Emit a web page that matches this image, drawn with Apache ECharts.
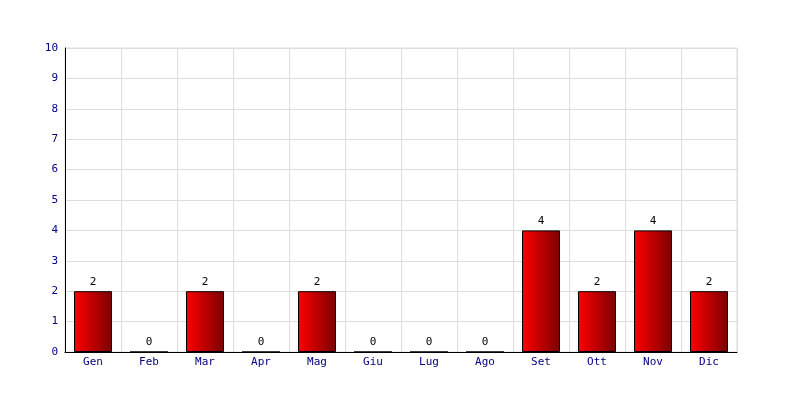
<!DOCTYPE html>
<html><head><meta charset="utf-8">
<script src="https://cdn.jsdelivr.net/npm/echarts@6/dist/echarts.min.js"></script>
<style>html,body{margin:0;padding:0;background:#fff}#c{width:800px;height:400px}</style>
</head><body><div id="c"></div>
<script>
var categories = ['Gen','Feb','Mar','Apr','Mag','Giu','Lug','Ago','Set','Ott','Nov','Dic'];
var values = [2,0,2,0,2,0,0,0,4,2,4,2];
var yTicks = [0,1,2,3,4,5,6,7,8,9,10];

var chart = echarts.init(document.getElementById('c'), null, {renderer:'canvas'});
var font = 'DejaVu Sans Mono';
chart.setOption({
  animation: false,
  backgroundColor: '#fff',
  grid: {left: 65, right: 63, top: 48, bottom: 48, show: true, borderColor: '#dddddd', borderWidth: 1},
  xAxis: {
    type: 'category', data: categories,
    axisLine: {show: true, lineStyle: {color: '#000', width: 1}},
    axisTick: {show: false},
    axisLabel: {color: '#000080', fontFamily: font, fontSize: 11, margin: 5},
    splitLine: {show: true, interval: 0, lineStyle: {color: '#dddddd', width: 1}}
  },
  yAxis: {
    type: 'value', min: 0, max: 10, interval: 1,
    axisLine: {show: true, lineStyle: {color: '#000', width: 1}},
    axisTick: {show: false},
    axisLabel: {color: '#000080', fontFamily: font, fontSize: 11, margin: 7},
    splitLine: {show: true, lineStyle: {color: '#dddddd', width: 1}}
  },
  series: [{
    type: 'bar', data: values, barWidth: 38,
    itemStyle: {
      color: {type: 'linear', x: 0, y: 0, x2: 1, y2: 0, colorStops: [{offset: 0, color: '#ff0000'}, {offset: 1, color: '#7a0000'}]},
      borderColor: '#000', borderWidth: 1
    },
    label: {show: true, position: 'top', color: '#000', fontFamily: font, fontSize: 11, distance: 4}
  }]
});
</script></body></html>
